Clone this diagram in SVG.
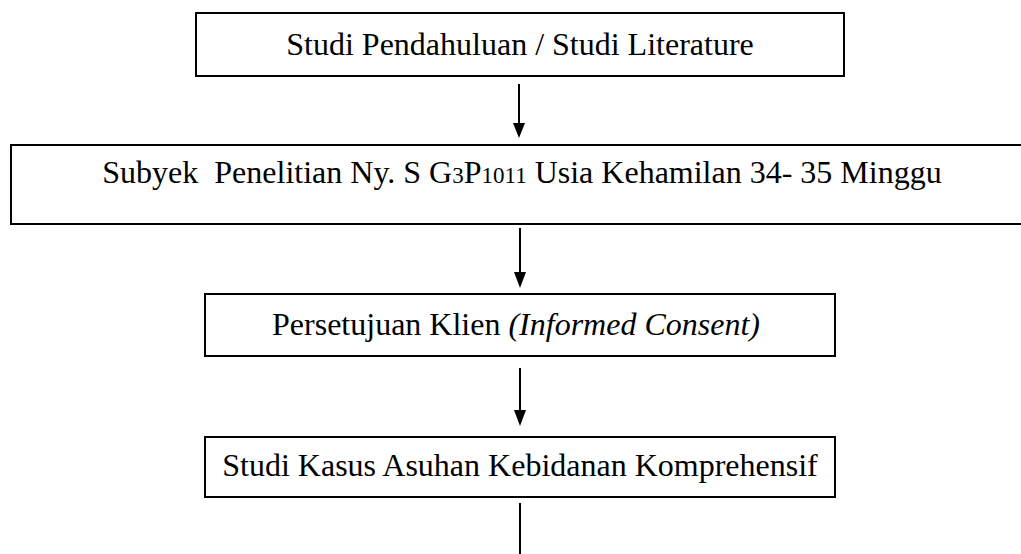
<svg xmlns="http://www.w3.org/2000/svg" width="1021" height="554" viewBox="0 0 1021 554">
<style>
.box{fill:#fff;stroke:#000;stroke-width:2}
.t{font-family:"Liberation Serif","Times New Roman",serif;font-size:32px;fill:#000;text-anchor:middle}
.c{stroke:#000;stroke-width:2;fill:none}
.h{fill:#000;stroke:none}
</style>
<rect width="1021" height="554" fill="#fff"/>
<g id="n1">
<rect class="box" x="196" y="13" width="648" height="63"/>
<text class="t" x="520" y="55">Studi Pendahuluan / Studi Literature</text>
</g>
<g id="n2">
<rect class="box" x="11" y="145" width="1020" height="79"/>
<text class="t" x="522" y="183" xml:space="preserve">Subyek  Penelitian Ny. S G<tspan font-size="23">3</tspan>P<tspan font-size="23">1011</tspan> Usia Kehamilan 34- 35 Minggu</text>
</g>
<g id="n3">
<rect class="box" x="205" y="294" width="630" height="62"/>
<text class="t" x="516" y="335">Persetujuan Klien <tspan font-style="italic">(Informed Consent)</tspan></text>
</g>
<g id="n4">
<rect class="box" x="205" y="437" width="630" height="60"/>
<text class="t" x="520" y="476">Studi Kasus Asuhan Kebidanan Komprehensif</text>
</g>
<g id="connectors">
<line class="c" x1="519" y1="84" x2="519" y2="126"/>
<polygon class="h" points="513,123 525,123 519,138"/>
<line class="c" x1="520" y1="228" x2="520" y2="274"/>
<polygon class="h" points="514,272 526,272 520,288"/>
<line class="c" x1="520" y1="368" x2="520" y2="412"/>
<polygon class="h" points="514,410 526,410 520,426"/>
<line class="c" x1="520" y1="503" x2="520" y2="554"/>
</g>
</svg>
